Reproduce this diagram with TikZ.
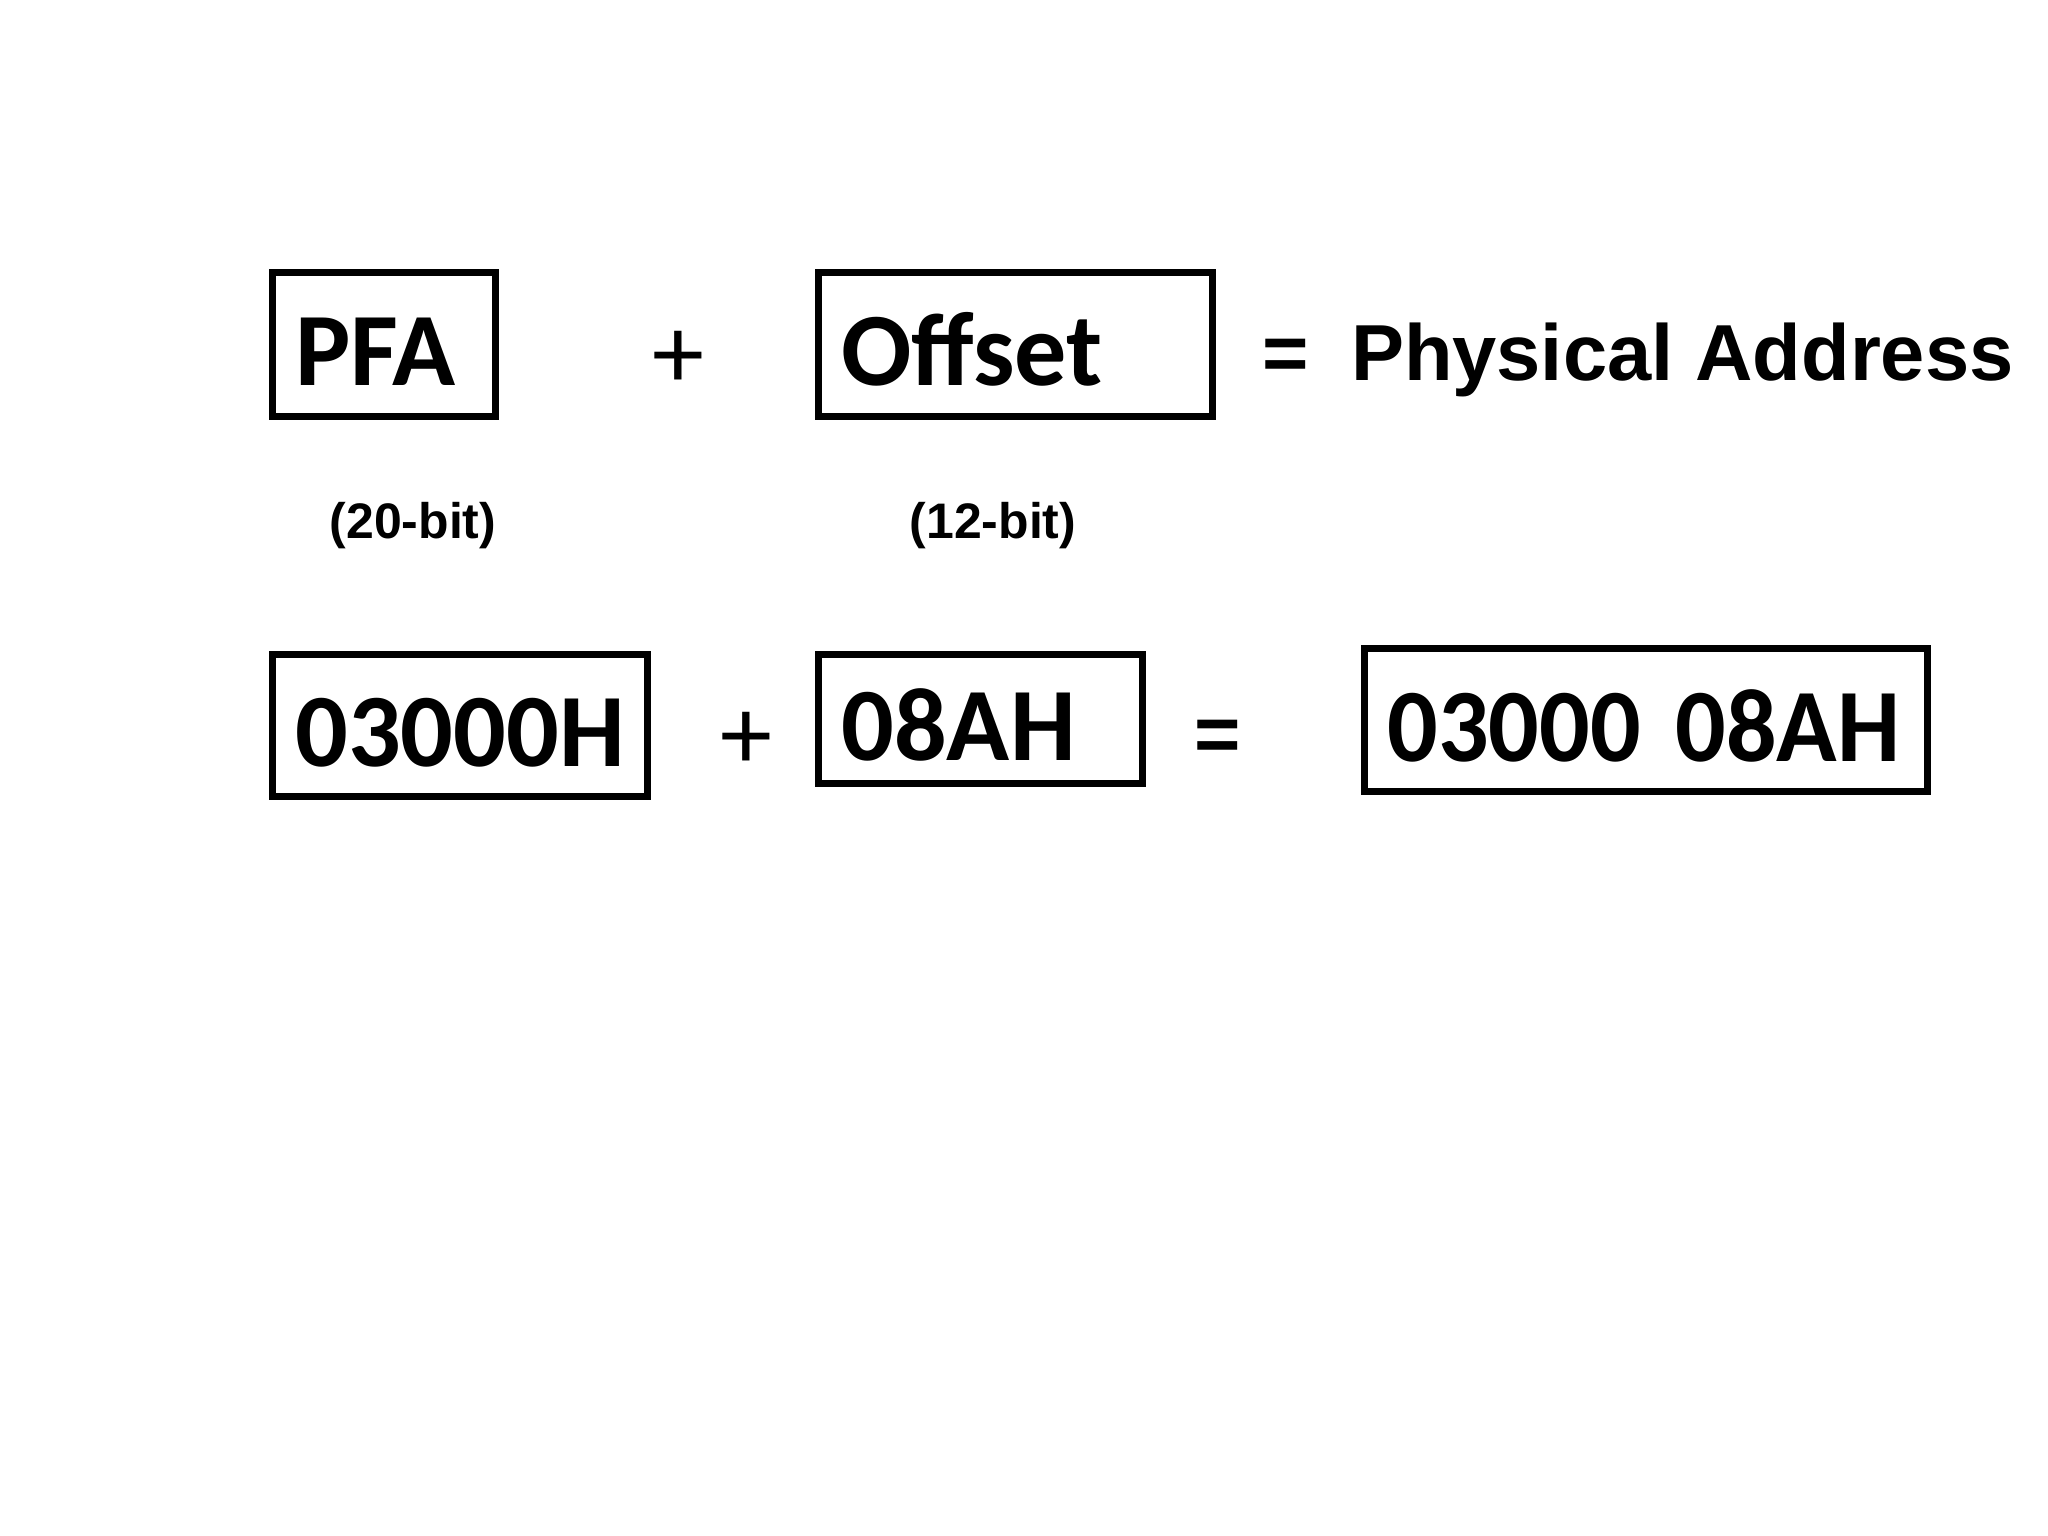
\documentclass[tikz,border=0pt]{standalone}
\usepackage{fontspec}
\setmainfont{Carlito}
\newfontfamily\arialfont{Liberation Sans}
\newfontfamily\narrowfont{Carlito}[FakeStretch=0.96]
\tikzstyle{every node}=[inner sep=0pt,outer sep=0pt]
\tikzstyle{regbox}=[draw=black,line width=2.1pt,inner xsep=0.23cm,align=left,text height=0.82cm,text depth=0pt,font=\bfseries\fontsize{29.6pt}{32pt}\selectfont]
\tikzstyle{op}=[font=\fontsize{29.6pt}{32pt}\selectfont]
\tikzstyle{eq}=[font=\arialfont\bfseries\fontsize{22.6pt}{26pt}\selectfont]
\tikzstyle{bits}=[font=\arialfont\bfseries\fontsize{14.2pt}{17pt}\selectfont]

\begin{document}
\begin{tikzpicture}[x=0.01cm,y=-0.01cm]
  \useasboundingbox[fill=white] (0,0) rectangle (2048,1536);

  \node[regbox,text width=1.77cm,minimum height=1.44cm] (pfa) at (384,344.5) {PFA};
  \node[op] (plusa) at (678.5,360) {+};
  \node[regbox,text width=3.48cm,minimum height=1.44cm] (offset) at (1015.5,344.5) {Offset};
  \node[eq] (equa) at (1286,360) {=};
  \node[eq,anchor=base west] (phys) at (1351,380) {Physical Address};

  \node[bits] (pfabits) at (413,526) {(20-bit)};
  \node[bits] (offbits) at (993,526) {(12-bit)};

  \node[regbox,text width=3.29cm,minimum height=1.42cm] (base) at (460,725.5) {03000H};
  \node[op] (plusb) at (746,740.5) {+};
  \node[regbox,text width=2.78cm,minimum height=1.29cm] (off) at (980.5,719) {08AH};
  \node[eq] (equb) at (1217.5,741) {=};
  \node[regbox,text width=5.17cm,minimum height=1.43cm,font=\narrowfont\bfseries\fontsize{29.6pt}{32pt}\selectfont] (sum) at (1646,720) {03000~08AH};
\end{tikzpicture}
\end{document}
